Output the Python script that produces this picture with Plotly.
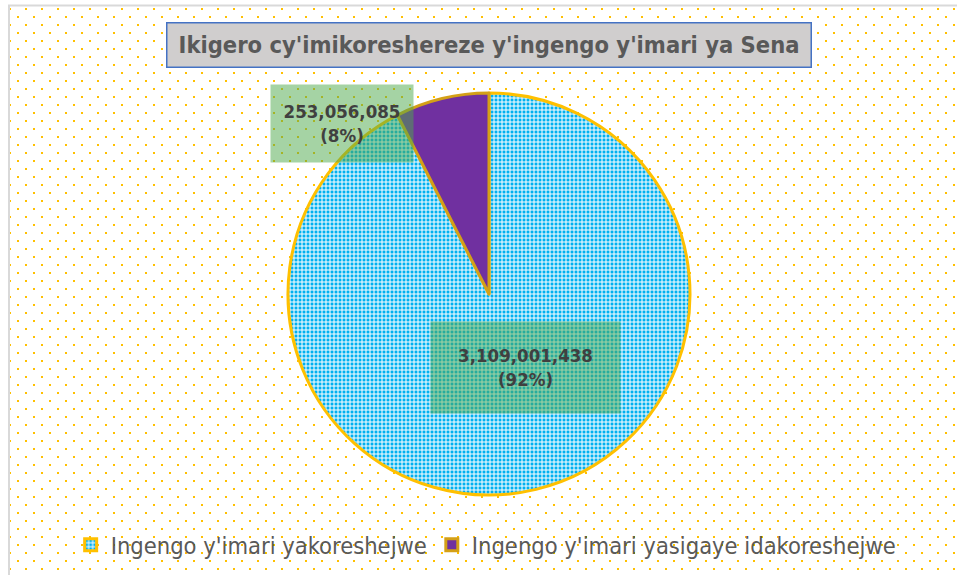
import numpy as np
import plotly.graph_objects as go

# ---- data ----
labels = ["Ingengo y'imari yakoreshejwe", "Ingengo y'imari yasigaye idakoreshejwe"]
values = [3109001438, 253056085]
title_text = "Ikigero cy'imikoreshereze y'ingengo y'imari ya Sena"
slice_colors = ["#00B0F0", "#7030A0"]
line_colors = ["#FFC000", "#D4A017"]

W, H = 957, 575
total = sum(values)
pcts = [v / total * 100 for v in values]
label_texts = [f"{v:,}<br>({p:.0f}%)" for v, p in zip(values, pcts)]

COND = "DejaVu Sans Condensed, DejaVu Sans"

fig = go.Figure()

# dotted background (decorative pattern, staggered lattice in pixel space)
xs, ys = [], []
for j, yy in enumerate(np.arange(9, H, 8)):
    x0 = 10 if j % 2 == 0 else 18
    for xx in np.arange(x0, W, 16):
        xs.append(xx)
        ys.append(yy)
fig.add_trace(go.Scatter(x=xs, y=ys, mode="markers",
                         marker=dict(symbol="square", size=2, color="#FFC000", line=dict(width=0)),
                         hoverinfo="skip", showlegend=False))

# pie
fig.add_trace(go.Pie(
    labels=labels, values=values, sort=False, direction="clockwise", rotation=0,
    textinfo="none", hoverinfo="label+value+percent",
    marker=dict(colors=slice_colors,
                line=dict(color=line_colors, width=3),
                pattern=dict(shape=["+", ""], fgcolor=["white", "#7030A0"],
                             bgcolor=["#00B0F0", "#7030A0"], size=4, solidity=0.45)),
    domain=dict(x=[(489 - 201) / W, (489 + 201) / W], y=[(575 - 495) / H, (575 - 93) / H]),
))

# data label boxes
label_boxes = [  # (cx, cy, w, h) in pixels
    (525.5, 367.5, 189, 91),
    (342, 123.5, 142, 77),
]
annotations = []
for (cx, cy, bw, bh), txt in zip(label_boxes, label_texts):
    annotations.append(dict(
        x=cx, y=cy, xref="x", yref="y", text=f"<b>{txt}</b>", showarrow=False,
        width=bw, height=bh, bgcolor="rgba(76,167,74,0.5)", borderpad=0,
        font=dict(family=COND, size=18.5, color="#404040"),
        align="center", valign="middle"))

# title box
annotations.append(dict(
    x=488.5, y=44.5, xref="x", yref="y", text=f"<b>{title_text}</b>", showarrow=False,
    width=641, height=41, bgcolor="#D0CECE", bordercolor="#4472C4", borderwidth=1.5,
    font=dict(family=COND, size=23.5, color="#595959"),
    align="center", valign="middle"))

fig.update_layout(
    width=W, height=H, margin=dict(l=0, r=0, t=0, b=0),
    paper_bgcolor="white", plot_bgcolor="white",
    xaxis=dict(range=[0, W], visible=False, fixedrange=True),
    yaxis=dict(range=[H, 0], visible=False, fixedrange=True),
    showlegend=True,
    legend=dict(orientation="h", x=0.508, xanchor="center", y=(575 - 545) / H, yanchor="middle",
                bgcolor="rgba(0,0,0,0)",
                font=dict(family=COND, size=23.5, color="#595959")),
    annotations=annotations,
    shapes=[
        dict(type="line", xref="x", yref="y", x0=9, x1=9, y0=5, y1=H, line=dict(color="#D9D9D9", width=2)),
        dict(type="line", xref="x", yref="y", x0=8, x1=W, y0=5.5, y1=5.5, line=dict(color="#D9D9D9", width=2)),
    ],
)

fig.write_html("out.html", config={"displayModeBar": False},
               post_script="document.body.style.margin='0';")
